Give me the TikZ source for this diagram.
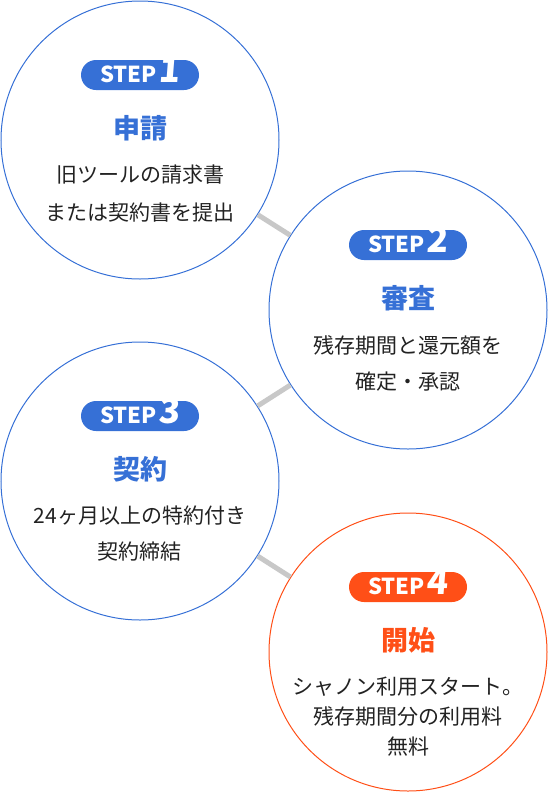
\documentclass[tikz,border=0pt]{standalone}
\usepackage{fontspec}
\newfontfamily\jp{Noto Sans CJK JP}
\newfontfamily\jpslant[FakeSlant=0.08]{Noto Sans CJK JP}
\usepackage{tikz}
\usetikzlibrary{calc}

\definecolor{stepblue}{HTML}{3670D6}
\definecolor{steporange}{HTML}{FF4F17}
\definecolor{linkgray}{HTML}{C8C8C8}
\definecolor{bodyblack}{HTML}{222222}

\begin{document}
\begin{tikzpicture}[x=1pt, y=-1pt,
        stepcircle/.style={circle, line width=1pt, minimum size=278pt, inner sep=0pt},
        badge/.style={rounded corners=15pt, minimum width=118pt, minimum height=30pt, inner sep=0pt,
            text height=15pt, text depth=0pt, text=white, font=\jp\bfseries\fontsize{22}{22}\selectfont},
        title/.style={font=\jp\bfseries\fontsize{27}{27}\selectfont},
        body/.style={text=bodyblack, align=center, anchor=north, inner sep=0pt},
        link/.style={linkgray, line width=5pt}]
        \useasboundingbox (0,0) rectangle (548,793);

        \foreach \n/\x/\y/\col/\ttl/\txt/\ls in {
            1/140/140/stepblue/申請/{旧ツールの請求書\\または契約書を提出}/38,
            2/408/310/stepblue/審査/{残存期間と還元額を\\確定・承認}/36,
            3/140/481/stepblue/契約/{24ヶ月以上の特約付き\\契約締結}/36,
            4/408/652/steporange/開始/{シャノン利用スタート。\\残存期間分の利用料\\無料}/30} {
            \node[stepcircle, draw=\col] (c\n) at (\x,\y) {};
            \node[badge, fill=\col] (b\n) at ($(c\n)+(0,-65)$)
                {STEP\hspace{2pt}{\jpslant\bfseries\fontsize{35}{35}\selectfont\n}};
            \node[title, text=\col] (t\n) at ($(c\n)+(0,-12)$) {\ttl};
            \node[body, font=\jp\fontsize{21}{\ls}\selectfont] (d\n) at ($(c\n)+(0,25)$) {\txt};
        }

        \draw[link] (c1) -- (c2);
        \draw[link] (c2) -- (c3);
        \draw[link] (c3) -- (c4);
    \end{tikzpicture}
\end{document}
